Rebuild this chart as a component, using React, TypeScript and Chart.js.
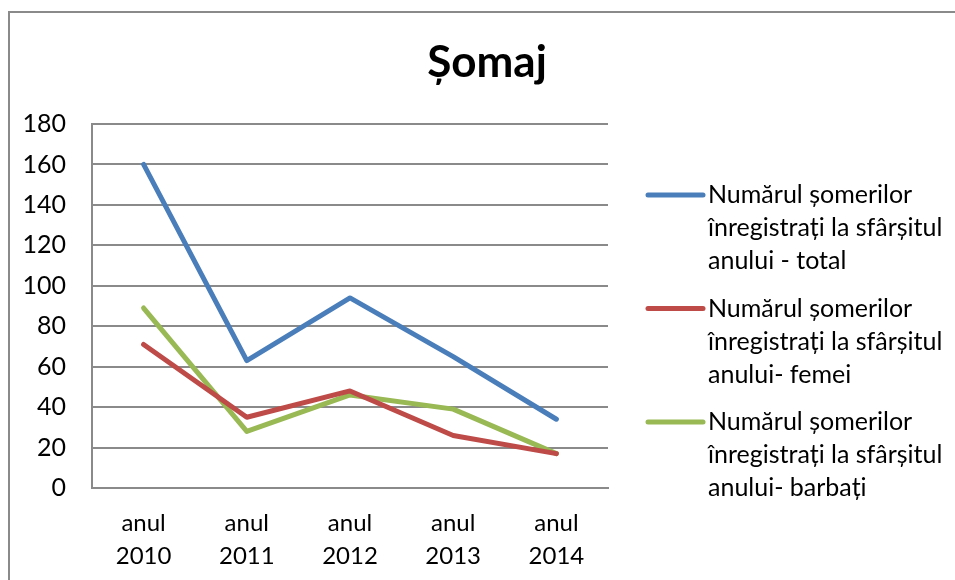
import React, { useEffect, useRef } from "react";
import { Chart, registerables } from "chart.js";

Chart.register(...registerables);

const categories = [
  ["anul", "2010"],
  ["anul", "2011"],
  ["anul", "2012"],
  ["anul", "2013"],
  ["anul", "2014"],
];
const totalValues = [160, 63, 94, 65, 34];
const femeiValues = [71, 35, 48, 26, 17];
const barbatiValues = [89, 28, 46, 39, 17];
const seriesLabels = [
  ["Numărul șomerilor", "înregistrați la sfârșitul", "anului - total"],
  ["Numărul șomerilor", "înregistrați la sfârșitul", "anului- femei"],
  ["Numărul șomerilor", "înregistrați la sfârșitul", "anului- barbați"],
];
const seriesColors = ["#4A7EBB", "#BE4B48", "#98B954"];
const yMin = 0;
const yMax = 180;
const yStep = 20;
const titleText = "Șomaj";

const FONT = "Lato, 'Open Sans', sans-serif";
const GRID = "#8a8a8a";

const sideTitle = {
  id: "sideTitle",
  afterDraw(chart: any) {
    const ctx = chart.ctx;
    ctx.save();
    ctx.font = `bold 44px ${FONT}`;
    ctx.fillStyle = "#000";
    ctx.textAlign = "center";
    ctx.textBaseline = "middle";
    ctx.fillText(titleText, chart.width / 2, 50);
    ctx.restore();
  },
};

const sideLegend = {
  id: "sideLegend",
  afterDraw(chart: any) {
    const ctx = chart.ctx;
    const area = chart.chartArea;
    const lineX0 = area.right + 40;
    const lineX1 = lineX0 + 55;
    const textX = lineX1 + 5;
    const lineH = 33;
    const entryGap = 113.5;
    ctx.save();
    ctx.font = `25px ${FONT}`;
    ctx.textBaseline = "middle";
    ctx.textAlign = "left";
    chart.data.datasets.forEach((ds: any, i: number) => {
      const y0 = area.top + 71 + i * entryGap;
      ctx.strokeStyle = ds.borderColor;
      ctx.lineWidth = 5;
      ctx.lineCap = "round";
      ctx.beginPath();
      ctx.moveTo(lineX0, y0);
      ctx.lineTo(lineX1, y0);
      ctx.stroke();
      ctx.fillStyle = "#000";
      const lines: string[] = ds.legendLines;
      lines.forEach((t, j) => ctx.fillText(t, textX, y0 + j * lineH));
    });
    ctx.restore();
  },
};

export default function App() {
  const ref = useRef<HTMLCanvasElement | null>(null);
  useEffect(() => {
    if (!ref.current) return;
    const valuesList = [totalValues, femeiValues, barbatiValues];
    const chart = new Chart(ref.current, {
      type: "line",
      data: {
        labels: categories,
        datasets: valuesList.map((vals, i) => ({
          label: seriesLabels[i].join(" "),
          legendLines: seriesLabels[i],
          data: vals,
          borderColor: seriesColors[i],
          backgroundColor: seriesColors[i],
          borderWidth: 5,
          pointRadius: 0,
          pointHoverRadius: 0,
          tension: 0,
          borderCapStyle: "round",
          borderJoinStyle: "round",
          fill: false,
        })) as any,
      },
      options: {
        animation: false,
        responsive: false,
        maintainAspectRatio: false,
        layout: { padding: { left: 0, right: 356, top: 111, bottom: 0 } },
        plugins: {
          legend: { display: false },
          tooltip: { enabled: false },
          title: { display: false },
        },
        scales: {
          x: {
            offset: true,
            grid: { display: false, drawTicks: false },
            border: { display: true, color: GRID, width: 2 },
            ticks: {
              color: "#000",
              padding: 19,
              maxRotation: 0,
              autoSkip: false,
              font: { family: FONT, size: 24, lineHeight: 33 / 24 },
            },
            afterFit: (s: any) => {
              s.height = 92;
            },
          },
          y: {
            min: yMin,
            max: yMax,
            grid: { color: GRID, lineWidth: 2, drawTicks: false },
            border: { display: true, color: GRID, width: 2 },
            ticks: {
              stepSize: yStep,
              color: "#000",
              padding: 26,
              font: { family: FONT, size: 25 },
            },
            afterFit: (s: any) => {
              s.width = 82;
            },
          },
        },
      },
      plugins: [sideTitle, sideLegend],
    });
    return () => chart.destroy();
  }, []);

  return (
    <div
      style={{
        position: "fixed",
        left: 0,
        top: 0,
        width: 955,
        height: 580,
        overflow: "hidden",
        background: "#fff",
      }}
    >
      <div
        style={{
          position: "absolute",
          left: 8,
          top: 11,
          width: 980,
          height: 600,
          borderTop: "2px solid #8a8a8a",
          borderLeft: "2px solid #8a8a8a",
        }}
      >
        <canvas ref={ref} width={954} height={567} style={{ display: "block" }} />
      </div>
    </div>
  );
}
